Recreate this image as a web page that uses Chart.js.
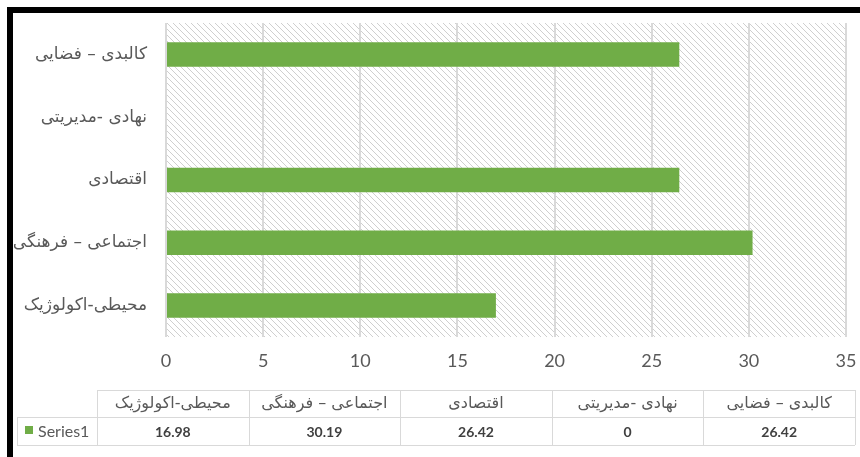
<!DOCTYPE html>
<html>
<head>
<meta charset="utf-8">
<script src="https://cdn.jsdelivr.net/npm/chart.js@4.4.0/dist/chart.umd.min.js"></script>
<style>
  body { margin: 0; background: #fff; }
  canvas { display: block; }
</style>
</head>
<body>
<canvas id="barChart" width="860" height="457"></canvas>
<script>
// données (ordre de haut en bas)
const categories = ['کالبدی – فضایی', 'نهادی -مدیریتی', 'اقتصادی', 'اجتماعی – فرهنگی', 'محیطی-اکولوژیک'];
const series1 = [26.42, 0, 26.42, 30.19, 16.98];
const seriesName = 'Series1';
const xTicks = [0, 5, 10, 15, 20, 25, 30, 35];

const green = '#70ad47';
const arFont = "'DejaVu Sans', 'Noto Sans', sans-serif";
const numFont = "Lato, 'Open Sans', sans-serif";

// motif hachuré
function makeHatch() {
    let pc = document.createElement('canvas');
    pc.width = 6; pc.height = 6;
    let g = pc.getContext('2d');
    g.strokeStyle = '#cfcfcf';
    g.lineWidth = 1;
    g.beginPath();
    [-6, 0, 6].forEach(k => { g.moveTo(k, 0); g.lineTo(k + 6, 6); });
    g.stroke();
    return g.createPattern(pc, 'repeat');
}

const hatchPlugin = {
    id: 'hatch',
    beforeDraw(chart) {
        let a = chart.chartArea, ctx = chart.ctx;
        ctx.save();
        ctx.fillStyle = makeHatch();
        ctx.fillRect(a.left, a.top, a.right - a.left, a.bottom - a.top);
        ctx.restore();
    }
};

// table de données sous le graphique
const tablePlugin = {
    id: 'dataTable',
    afterDraw(chart) {
        let ctx = chart.ctx;
        let x0 = 97, x1 = 855, yh = 390, yr = 417, yb = 445, lx = 17;
        let n = categories.length, w = (x1 - x0) / n;
        ctx.save();
        ctx.strokeStyle = '#d9d9d9';
        ctx.lineWidth = 1;
        ctx.beginPath();
        ctx.moveTo(x0, yh + 0.5); ctx.lineTo(x1, yh + 0.5);
        ctx.moveTo(lx, yr + 0.5); ctx.lineTo(x1, yr + 0.5);
        ctx.moveTo(lx, yb + 0.5); ctx.lineTo(x1, yb + 0.5);
        ctx.moveTo(lx + 0.5, yr); ctx.lineTo(lx + 0.5, yb);
        for (let i = 0; i <= n; i++) {
            let x = Math.round(x0 + i * w) + 0.5;
            ctx.moveTo(x, yh); ctx.lineTo(x, yb);
        }
        ctx.stroke();
        ctx.textAlign = 'center';
        ctx.textBaseline = 'middle';
        for (let i = 0; i < n; i++) {
            let idx = n - 1 - i; // colonnes inversées
            let cx = x0 + (i + 0.5) * w;
            ctx.fillStyle = '#595959';
            ctx.font = '16px ' + arFont;
            ctx.fillText(categories[idx], cx, (yh + yr) / 2);
            ctx.fillStyle = '#404040';
            ctx.font = 'bold 14px ' + numFont;
            ctx.fillText(String(series1[idx]), cx, (yr + yb) / 2 + 1);
        }
        // légende
        ctx.fillStyle = green;
        ctx.fillRect(25, 426, 8, 8);
        ctx.fillStyle = '#595959';
        ctx.textAlign = 'left';
        ctx.font = '16px ' + numFont;
        ctx.fillText(seriesName, 38, (yr + yb) / 2 + 1);
        // cadre noir
        ctx.fillStyle = '#000';
        ctx.fillRect(7, 7, 853, 6);
        ctx.fillRect(7, 7, 6, 450);
        ctx.restore();
    }
};

new Chart(document.getElementById('barChart'), {
    type: 'bar',
    data: {
        labels: categories,
        datasets: [{
            label: seriesName,
            data: series1,
            backgroundColor: green,
            borderWidth: 0,
            barPercentage: 0.39,
            categoryPercentage: 1
        }]
    },
    options: {
        indexAxis: 'y',
        responsive: false,
        animation: false,
        devicePixelRatio: 1,
        layout: { padding: { left: 14, right: 14, top: 23, bottom: 70 } },
        plugins: { legend: { display: false }, tooltip: { enabled: false } },
        scales: {
            x: {
                min: 0, max: 35,
                afterBuildTicks: s => { s.ticks = xTicks.map(v => ({ value: v })); },
                afterFit: s => { s.height = 50; s.paddingLeft = 0; s.paddingRight = 0; },
                grid: { color: '#d9d9d9', lineWidth: 2, drawTicks: false },
                border: { display: false },
                ticks: { color: '#595959', font: { family: numFont, size: 18 }, padding: 13 }
            },
            y: {
                afterFit: s => { s.width = 152; s.paddingTop = 0; s.paddingBottom = 0; },
                grid: { display: false, drawTicks: false },
                border: { display: false },
                ticks: { color: '#595959', font: { family: arFont, size: 17 }, padding: 19 }
            }
        }
    },
    plugins: [hatchPlugin, tablePlugin]
});
</script>
</body>
</html>
